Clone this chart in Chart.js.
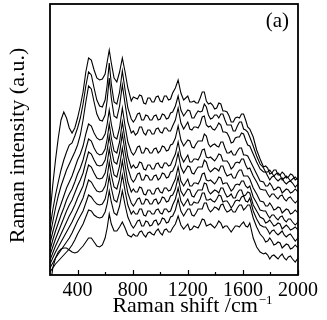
<!DOCTYPE html>
<html><head><meta charset="utf-8">
<script src="https://cdn.jsdelivr.net/npm/chart.js@4"></script>
<style>html,body{margin:0;padding:0;background:#fff;}canvas{display:block;}</style>
</head><body>
<canvas id="c" width="327" height="320"></canvas>
<script>
// Raman shift (cm^-1) sampling points shared by all spectra
const wavenumbers = [200,220,240,260,280,300,320,340,360,380,400,420,440,460,480,500,520,540,560,580,600,
  615,630,645,665,685,705,725,745,765,
  790,805,820,835,850,865,880,895,910,925,940,955,970,985,1000,1015,1030,1045,1060,1075,1090,
  1110,1130,1150,1170,
  1200,1215,1230,1245,1260,1275,1290,1305,1320,1335,1350,1365,1380,1395,1410,1425,1440,1455,1470,1485,1500,1515,1530,1545,1560,1575,1590,1605,1620,1635,1650,
  1675,1700,1725,1750,
  1765,1780,1795,1810,1825,1840,1855,1870,1885,1900,1915,1930,1945,1960,1980,2000];

// Raman intensity (a.u., stacked spectra, top to bottom)
const spectrum1 = [85,115,140,162,180,188,182,172,167,172,182,194,208,228,242,240,230,222,220,221,226,238,250,237,222,218,228,242,228,212,
  199,203,202,201,205,204,197,196,202,202,198,198,203,204,199,198,204,204,200,201,207,
  212,220,207,200,
  204,198,198,199,197,197,202,208,208,199,196,197,195,191,192,197,196,189,189,188,184,178,178,182,183,182,186,186,180,173,171,
  163,150,141,133,
  134,132,126,127,130,130,125,125,128,126,122,123,126,125,120,122];
const spectrum2 = [72,90,105,118,130,140,148,155,157,164,172,182,196,214,228,225,212,200,194,193,200,215,237,216,198,196,208,229,210,192,
  181,178,181,186,187,180,180,185,184,180,180,184,185,180,181,186,185,181,182,187,188,
  194,204,190,184,
  190,189,182,182,186,189,188,189,196,193,185,181,182,185,185,182,186,186,180,175,175,175,169,169,174,178,178,171,170,168,163,
  154,144,136,132,
  128,128,130,127,124,126,127,125,120,122,124,122,119,121,123,120];
const spectrum3 = [64,78,92,104,114,122,130,136,142,148,155,165,180,198,214,211,198,186,180,179,185,200,222,202,184,182,194,215,196,178,
  167,169,165,167,173,173,167,165,170,170,166,166,171,172,168,167,172,172,169,169,174,
  180,192,177,171,
  178,171,170,173,173,172,176,183,184,175,173,174,171,170,173,177,175,168,168,167,163,157,158,162,163,163,167,166,160,155,154,
  146,138,131,128,
  128,124,120,123,124,121,119,121,122,118,116,118,119,117,113,116];
const spectrum4 = [57,68,78,88,96,104,112,118,124,132,140,146,154,166,176,174,167,162,160,161,166,176,190,176,163,161,172,192,174,158,
  148,145,148,153,154,147,147,152,151,147,147,151,152,147,149,154,153,149,150,155,156,
  162,174,160,154,
  160,159,153,152,156,159,159,159,166,164,156,153,155,156,154,153,158,158,152,147,147,149,145,145,149,152,152,145,145,144,140,
  133,126,119,118,
  114,114,117,114,110,111,113,112,107,109,111,110,107,108,111,108];
const spectrum5 = [50,60,69,77,85,92,100,106,111,118,126,132,140,151,161,159,152,147,145,146,151,161,176,162,149,147,158,178,160,143,
  132,135,132,133,138,137,131,130,135,135,131,131,136,137,133,132,137,137,134,135,140,
  146,158,144,138,
  145,138,138,141,141,140,144,150,151,143,142,143,141,139,142,146,145,139,139,139,136,131,133,137,138,137,141,141,135,131,132,
  124,118,111,110,
  110,106,103,106,106,103,101,104,105,101,99,102,103,100,97,100];
const spectrum6 = [45,53,61,68,75,82,89,95,100,107,114,120,127,138,148,146,140,135,134,135,140,150,164,151,138,136,147,166,148,132,
  121,118,121,126,127,120,120,125,124,120,120,124,125,120,122,127,126,122,123,128,129,
  135,147,133,127,
  134,133,127,126,130,133,133,133,140,138,131,128,130,132,131,129,134,134,128,124,125,126,122,122,127,130,130,124,124,124,121,
  112,106,99,98,
  94,94,97,94,90,91,93,92,87,89,91,90,86,87,90,87];
const spectrum7 = [40,47,54,60,66,72,78,84,89,95,102,108,114,125,135,133,127,122,121,122,127,137,151,138,125,123,134,152,135,118,
  108,111,108,108,113,112,106,105,110,110,106,106,111,112,108,107,112,112,109,110,115,
  121,133,119,114,
  121,114,114,117,117,116,120,126,127,120,119,120,118,116,119,123,122,116,117,117,113,109,111,115,116,115,119,119,114,112,114,
  103,97,90,89,
  89,85,82,85,85,82,80,83,84,80,78,81,81,78,75,78];
const spectrum8 = [36,42,48,53,58,63,68,73,78,84,90,96,102,111,120,118,113,109,108,109,114,123,138,125,113,111,121,139,122,107,
  97,94,97,101,102,96,96,101,100,96,96,100,101,96,98,103,102,98,99,104,105,
  111,123,109,104,
  111,110,104,103,107,110,110,110,117,116,109,106,108,110,109,107,112,112,107,103,104,106,102,102,107,110,110,104,105,108,107,
  95,89,83,81,
  77,78,80,77,74,75,77,76,71,73,75,73,70,71,73,70];
const spectrum9 = [32,37,42,46,50,54,58,62,67,73,79,84,89,97,105,103,99,96,95,96,101,110,124,112,100,98,108,125,109,95,
  86,89,86,86,91,91,85,84,89,89,86,86,90,91,87,86,91,91,88,89,95,
  101,112,99,94,
  101,95,95,98,97,97,101,107,107,100,100,101,99,98,101,105,104,98,99,99,96,92,95,99,100,99,103,104,99,98,102,
  89,81,75,73,
  73,70,66,69,70,67,65,67,69,65,63,65,66,63,59,62];
const spectrum10 = [28,32,36,39,42,45,48,51,55,60,66,71,76,83,90,89,85,83,82,83,88,96,109,98,87,85,94,109,95,83,
  75,72,75,79,80,74,74,79,78,74,75,79,80,75,77,82,81,77,78,83,84,
  90,101,89,84,
  91,91,85,84,87,91,91,91,97,97,91,88,90,93,92,90,95,96,91,88,89,91,88,88,92,95,95,90,92,95,95,
  82,73,66,62,
  58,59,62,59,55,56,58,57,52,54,56,55,51,52,55,52];
const spectrum11 = [10,32,42,48,51,52,52,50,48,47,48,51,54,58,62,62,58,54,53,55,62,72,86,76,69,69,73,78,72,65,
  63,66,64,64,68,69,65,63,67,68,66,65,69,71,67,65,70,71,68,68,72,
  76,84,75,71,
  76,70,71,74,73,72,76,81,80,74,75,76,74,72,75,79,77,72,74,74,71,68,71,74,74,73,76,78,74,73,77,
  62,53,48,46,
  47,45,41,44,45,43,41,44,46,42,40,43,44,41,38,42];

const spectra = [spectrum1,spectrum2,spectrum3,spectrum4,spectrum5,spectrum6,spectrum7,spectrum8,spectrum9,spectrum10,spectrum11];

const xMajorTicks = [400, 800, 1200, 1600, 2000];
const xMinorTicks = [600, 1000, 1400, 1800];
const xRange = [200, 2000];
const yRange = [25, 296];

const xTitle = 'Raman shift /cm';
const xTitleSup = '\u22121';
const yTitle = 'Raman intensity (a.u.)';
const panelLabel = '(a)';

const FONT = '"Liberation Serif", "Times New Roman", serif';

const decor = {
  id: 'decor',
  afterDraw(chart) {
    const {ctx, chartArea: a, scales: {x}} = chart;
    ctx.save();
    ctx.strokeStyle = '#000';
    ctx.lineWidth = 1.8;
    ctx.strokeRect(a.left, a.top, a.right - a.left, a.bottom - a.top);
    ctx.lineWidth = 1.2;
    ctx.beginPath();
    xMajorTicks.forEach(v => {
      const px = Math.round(x.getPixelForValue(v)) + 0.5;
      ctx.moveTo(px, a.bottom); ctx.lineTo(px, a.bottom - 5);
    });
    xMinorTicks.forEach(v => {
      const px = Math.round(x.getPixelForValue(v)) + 0.5;
      ctx.moveTo(px, a.bottom); ctx.lineTo(px, a.bottom - 3);
    });
    ctx.stroke();

    ctx.fillStyle = '#000';
    ctx.font = '21px ' + FONT;
    ctx.textAlign = 'right';
    ctx.textBaseline = 'alphabetic';
    ctx.fillText(panelLabel, a.right - 9, a.top + 23);

    ctx.font = '22px ' + FONT;
    const w1 = ctx.measureText(xTitle).width;
    ctx.font = '13px ' + FONT;
    const w2 = ctx.measureText(xTitleSup).width;
    const cx = (a.left + a.right) / 2 + 18;
    const sx = cx - (w1 + w2) / 2;
    ctx.textAlign = 'left';
    ctx.font = '22px ' + FONT;
    ctx.fillText(xTitle, sx, a.bottom + 37);
    ctx.font = '13px ' + FONT;
    ctx.fillText(xTitleSup, sx + w1 + 1, a.bottom + 29);

    ctx.translate(18, (a.top + a.bottom) / 2 + 6);
    ctx.rotate(-Math.PI / 2);
    ctx.textAlign = 'center';
    ctx.textBaseline = 'middle';
    ctx.font = '22px ' + FONT;
    ctx.fillText(yTitle, 0, 0);
    ctx.restore();
  }
};

new Chart(document.getElementById('c'), {
  type: 'line',
  data: {
    datasets: spectra.map(s => ({
      data: wavenumbers.map((w, i) => ({x: w, y: s[i]})),
      borderColor: '#000',
      borderWidth: 1.1,
      pointRadius: 0,
      tension: 0,
      fill: false
    }))
  },
  options: {
    responsive: false,
    animation: false,
    devicePixelRatio: 1,
    layout: {padding: {left: 50, right: 29, top: 4, bottom: 0}},
    plugins: {legend: {display: false}, tooltip: {enabled: false}},
    scales: {
      x: {
        type: 'linear',
        min: xRange[0], max: xRange[1],
        grid: {display: false},
        border: {display: false},
        afterBuildTicks: s => { s.ticks = xMajorTicks.map(v => ({value: v})); },
        afterFit: s => { s.height = 45; },
        ticks: {
          color: '#000',
          font: {family: FONT, size: 20},
          padding: -4,
          maxRotation: 0,
          autoSkip: false,
          callback: v => String(v)
        }
      },
      y: {
        display: false,
        min: yRange[0], max: yRange[1]
      }
    }
  },
  plugins: [decor]
});
</script>
</body></html>
